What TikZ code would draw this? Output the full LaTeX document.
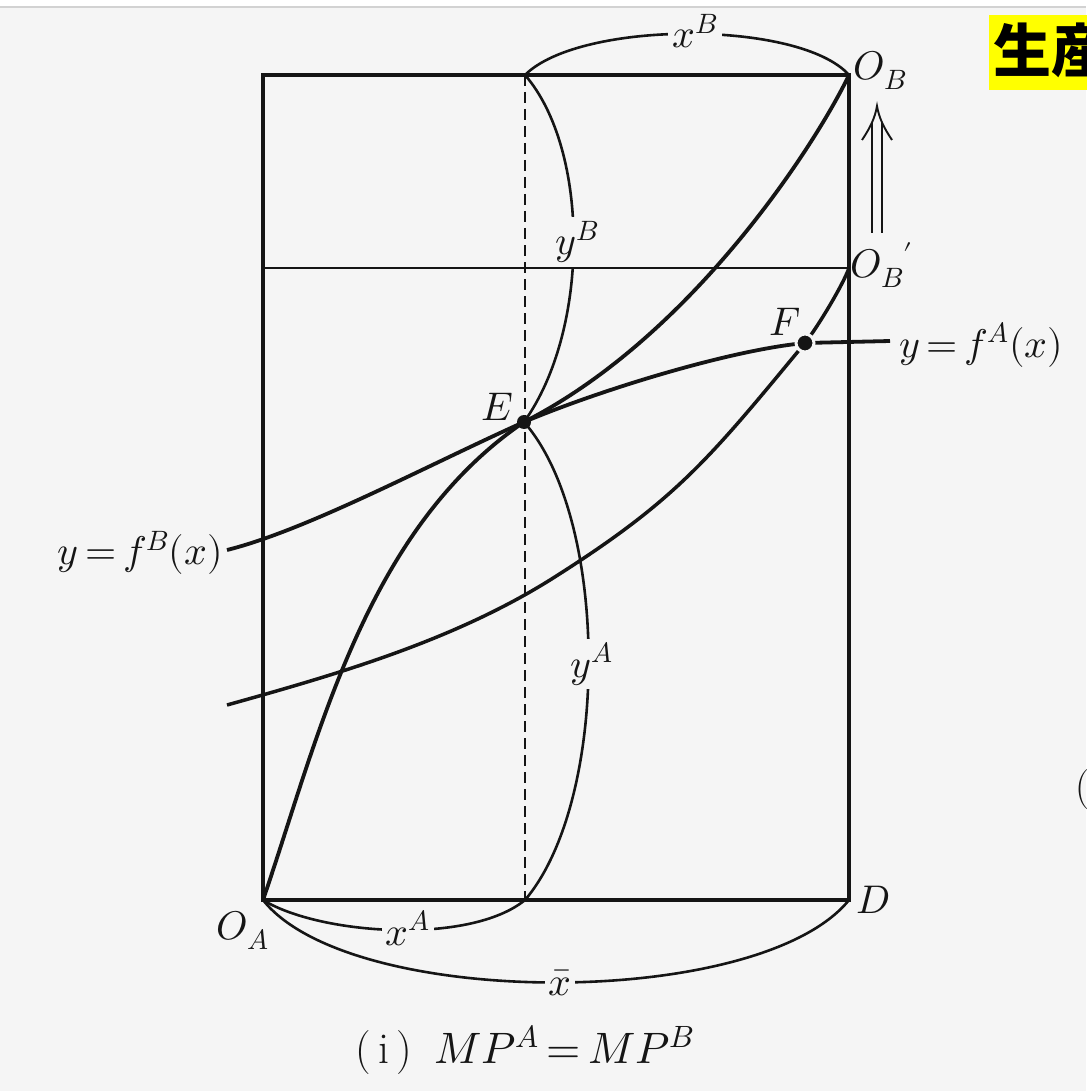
\documentclass[tikz,border=0pt]{standalone}
\usepackage{fontspec}
\usepackage{unicode-math}
\setmathfont{Latin Modern Math}
\newfontfamily\cjkfont{Noto Sans CJK JP}
\usetikzlibrary{arrows.meta}
\definecolor{bg}{HTML}{F5F5F5}
\definecolor{ink}{HTML}{151515}
\definecolor{hl}{HTML}{FFFF00}
\begin{document}
\begin{tikzpicture}[x=1pt,y=-1pt,
  frame/.style={ink, line width=3.3pt},
  curve/.style={ink, line width=3.8pt},
  bracket/.style={ink, line width=2.6pt},
  lab/.style={font=\fontsize{40}{46}\selectfont, text=ink, inner sep=1pt},
  tag/.style={lab, fill=bg, inner sep=4pt},
  dotmark/.style={circle, fill=ink, inner sep=0pt, minimum size=14pt}]
\fill[bg] (0,0) rectangle (1086,1091);
\useasboundingbox (0,0) rectangle (1086,1091);
\fill[white] (0,0) rectangle (1086,6);
\draw[gray!35, line width=1.5pt] (0,7) -- (1086,7);
% corner points
\coordinate (OA) at (263,900);
\coordinate (D) at (849,900);
\coordinate (OB) at (849,75);
\coordinate (TL) at (263,75);
\coordinate (OBp) at (849,268);
\coordinate (Lp) at (263,268);
\coordinate (T) at (525,75);
\coordinate (Bm) at (525,900);
\coordinate (E) at (524,422);
\coordinate (F) at (805,343);
\coordinate (M) at (550,580);
\coordinate (fAend) at (890,341);
\coordinate (fBend) at (227,550);
\coordinate (gend) at (227,705);
\coordinate (arrS) at (877,233);
\coordinate (arrH) at (877,122);
\coordinate (arrE) at (877,106);
% brackets with their labels
\draw[bracket] (T) .. controls (580,20) and (800,20) .. (OB);
\node[tag] (xB) at (695,31) {$x^B$};
\draw[bracket] (T) .. controls (590,150) and (590,330) .. (E);
\node[tag] (yB) at (577,242) {$y^B$};
\draw[bracket] (E) .. controls (610,520) and (610,800) .. (Bm);
\node[tag] (yA) at (592,664) {$y^A$};
\draw[bracket] (OA) .. controls (320,935) and (470,945) .. (Bm);
\node[tag] (xA) at (408,928) {$x^A$};
\draw[bracket] (OA) .. controls (350,1010) and (760,1010) .. (D);
\node[tag] (xbar) at (560,983) {$\bar{x}$};
% frame
\draw[frame] (TL) -- (OB) -- (D) -- (OA) -- cycle;
\draw[frame, line width=2.8pt] (Lp) -- (OBp);
\draw[ink, line width=2.6pt, dash pattern=on 11pt off 6pt] (T) -- (Bm);
% production curve of A
\draw[curve] (OA) .. controls (318,740) and (364,531) .. (E)
  .. controls (600,390) and (730,350) .. (F) -- (fAend);
% production curve of B
\draw[curve] (OB) .. controls (818,140) and (695,335) .. (E)
  .. controls (424,467) and (307,530) .. (fBend);
% shifted curve of B
\draw[curve, line width=3.5pt] (OBp) .. controls (843,285) and (817,328) .. (F)
  .. controls (709,459) and (677,500) .. (M)
  .. controls (452,641) and (338,674) .. (gend);
% dots
\node[dotmark] (Edot) at (E) {};
\node[dotmark, draw=bg, line width=3pt, minimum size=18pt] (Fdot) at (F) {};
% shift arrow
\draw[ink, line width=1.8pt, double=bg, double distance=8pt] (arrS) -- (arrH);
\draw[ink, line width=1.9pt] (862,140) .. controls (870,128) and (875,118) .. (arrE)
  .. controls (879,118) and (884,128) .. (892,140);
% point labels
\node[lab] (lOB) at (880,70) {$O_B$};
\node[lab] (lOBp) at (882,265) {$O_B{}'$};
\node[lab] (lF) at (785,322) {$F$};
\node[lab] (lE) at (497,407) {$E$};
\node[lab] (lD) at (873,900) {$D$};
\node[lab] (lOA) at (243,930) {$O_A$};
\node[lab, anchor=west] (lfA) at (898,345) {$y\mkern-2mu=\mkern-2mu f^A(x)$};
\node[lab, anchor=east] (lfB) at (224,553) {$y\mkern-2mu=\mkern-2mu f^B(x)$};
% caption
\node[lab, font=\fontsize{44}{50}\selectfont] (cap) at (525,1050) {(\,i\,)\enspace$MP^A\mkern-2mu=\mkern-2mu MP^B$};
% clipped marks at the right edge
\node[lab, anchor=west] (paren) at (1074,790) {(};
\fill[hl] (989,15) rectangle (1090,90);
\node[anchor=west, inner sep=0pt, text=black, font=\cjkfont\bfseries\fontsize{58}{60}\selectfont] (seisan) at (993,50) {生産};
\end{tikzpicture}
\end{document}
